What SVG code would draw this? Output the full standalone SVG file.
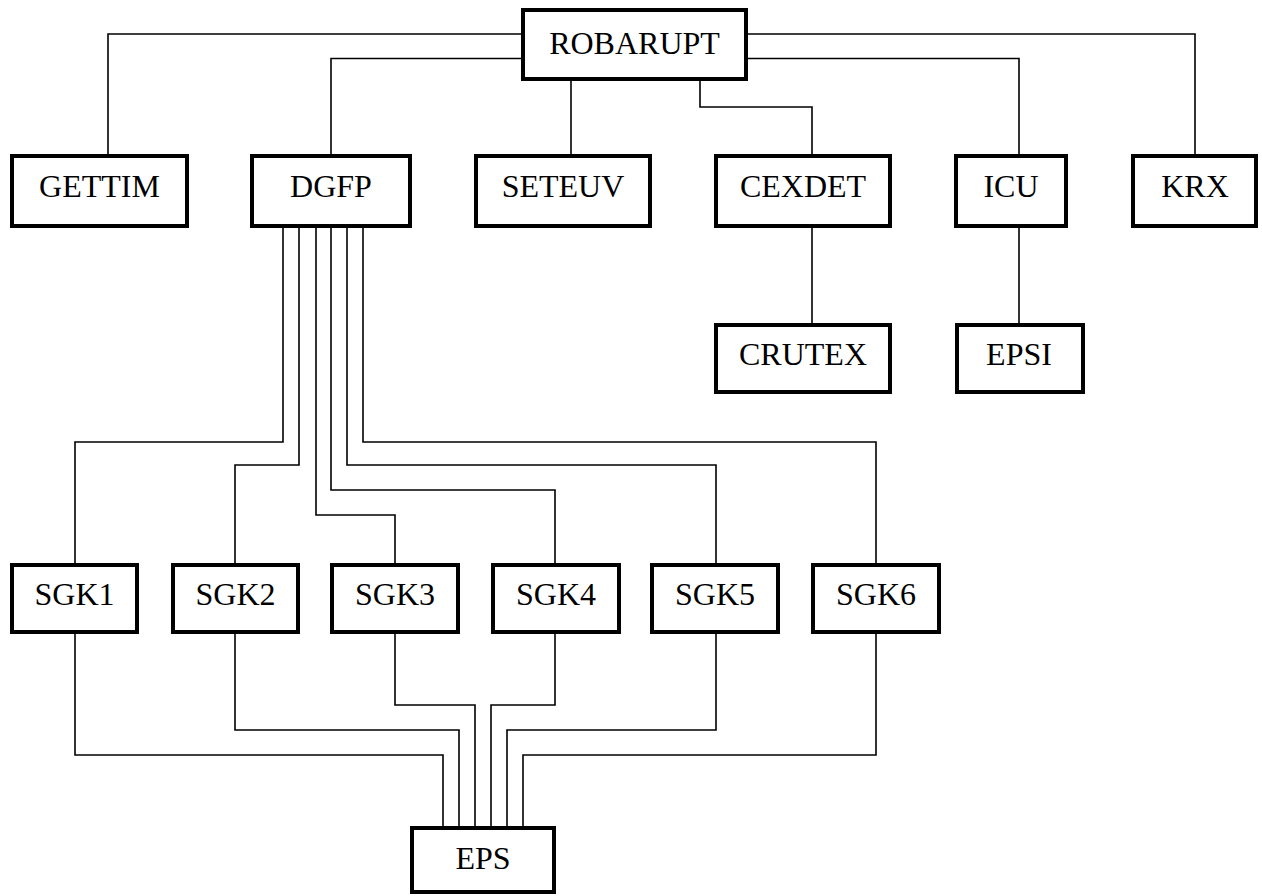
<svg xmlns="http://www.w3.org/2000/svg" width="1262" height="896" viewBox="0 0 1262 896">
<style>
.box{fill:#fff;stroke:#000;stroke-width:4}
.lbl{font-family:"Liberation Serif","Times New Roman",serif;font-size:32px;fill:#000;text-anchor:middle}
.c{fill:none;stroke:#000;stroke-width:1.6}
</style>
<rect width="1262" height="896" fill="#fff"/>
<g id="connectors">
<polyline class="c" points="521,34 108,34 108,154"/>
<polyline class="c" points="521,58.5 331,58.5 331,154"/>
<polyline class="c" points="571,81 571,154"/>
<polyline class="c" points="700,81 700,107 812,107 812,154"/>
<polyline class="c" points="748,58.5 1019,58.5 1019,154"/>
<polyline class="c" points="748,34 1195,34 1195,154"/>
<polyline class="c" points="812,228 812,323"/>
<polyline class="c" points="1019,228 1019,323"/>
<polyline class="c" points="283,228 283,442 75,442 75,563"/>
<polyline class="c" points="299,228 299,465 235,465 235,563"/>
<polyline class="c" points="316,228 316,515 395,515 395,563"/>
<polyline class="c" points="331,228 331,490 555,490 555,563"/>
<polyline class="c" points="347,228 347,465 716,465 716,563"/>
<polyline class="c" points="363,228 363,442 876,442 876,563"/>
<polyline class="c" points="75,634 75,755 443,755 443,826"/>
<polyline class="c" points="235,634 235,730 459,730 459,826"/>
<polyline class="c" points="395,634 395,705 475,705 475,826"/>
<polyline class="c" points="555,634 555,705 491,705 491,826"/>
<polyline class="c" points="716,634 716,730 507,730 507,826"/>
<polyline class="c" points="876,634 876,755 523,755 523,826"/>
</g>
<g id="ROBARUPT"><rect class="box" x="523" y="10" width="223" height="69"/><text class="lbl" x="634.5" y="54">ROBARUPT</text></g>
<g id="GETTIM"><rect class="box" x="12" y="156" width="175" height="70"/><text class="lbl" x="99.5" y="197">GETTIM</text></g>
<g id="DGFP"><rect class="box" x="252" y="156" width="158" height="70"/><text class="lbl" x="331" y="197">DGFP</text></g>
<g id="SETEUV"><rect class="box" x="476" y="156" width="174" height="70"/><text class="lbl" x="563" y="197">SETEUV</text></g>
<g id="CEXDET"><rect class="box" x="716" y="156" width="174" height="70"/><text class="lbl" x="803" y="197">CEXDET</text></g>
<g id="ICU"><rect class="box" x="956" y="156" width="110" height="70"/><text class="lbl" x="1011" y="197">ICU</text></g>
<g id="KRX"><rect class="box" x="1133" y="156" width="123" height="70"/><text class="lbl" x="1195" y="197">KRX</text></g>
<g id="CRUTEX"><rect class="box" x="716" y="325" width="174" height="67"/><text class="lbl" x="803" y="365">CRUTEX</text></g>
<g id="EPSI"><rect class="box" x="957" y="325" width="126" height="67"/><text class="lbl" x="1019" y="365">EPSI</text></g>
<g id="SGK1"><rect class="box" x="12" y="565" width="125" height="67"/><text class="lbl" x="74.5" y="605">SGK1</text></g>
<g id="SGK2"><rect class="box" x="173" y="565" width="125" height="67"/><text class="lbl" x="235.5" y="605">SGK2</text></g>
<g id="SGK3"><rect class="box" x="332" y="565" width="126" height="67"/><text class="lbl" x="395" y="605">SGK3</text></g>
<g id="SGK4"><rect class="box" x="493" y="565" width="126" height="67"/><text class="lbl" x="556" y="605">SGK4</text></g>
<g id="SGK5"><rect class="box" x="652" y="565" width="126" height="67"/><text class="lbl" x="715" y="605">SGK5</text></g>
<g id="SGK6"><rect class="box" x="813" y="565" width="126" height="67"/><text class="lbl" x="876" y="605">SGK6</text></g>
<g id="EPS"><rect class="box" x="412" y="828" width="142" height="64"/><text class="lbl" x="483" y="869">EPS</text></g>
</svg>
